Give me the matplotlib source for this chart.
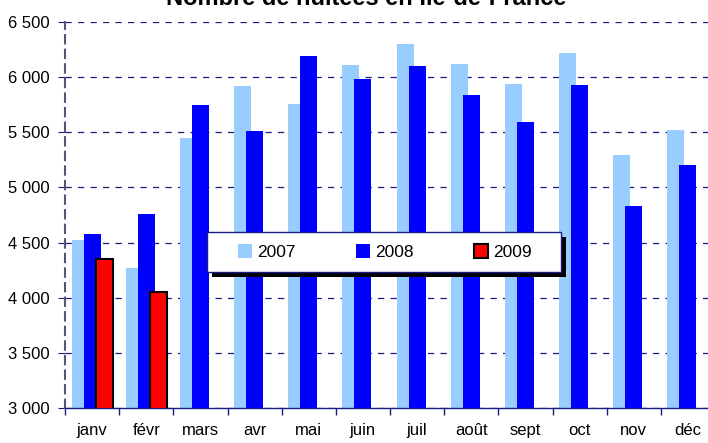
import numpy as np
import matplotlib
matplotlib.use("Agg")
import matplotlib.pyplot as plt
from matplotlib.patches import Rectangle
from matplotlib.ticker import FuncFormatter

months = ["janv", "févr", "mars", "avr", "mai", "juin", "juil", "août", "sept", "oct", "nov", "déc"]
v2007 = [4520, 4265, 5450, 5920, 5755, 6110, 6300, 6120, 5940, 6220, 5295, 5520]
v2008 = [4575, 4760, 5745, 5510, 6190, 5985, 6100, 5840, 5595, 5930, 4830, 5205]
v2009 = [4350, 4055]

plt.rcParams['font.family'] = ['Liberation Sans', 'DejaVu Sans']

W, H = 708, 443
fig = plt.figure(figsize=(W / 100, H / 100), dpi=100)
ax = fig.add_axes([65 / W, 35 / H, 650 / W, 386 / H])

x = np.arange(len(months))
w = 0.315
off = 0.222
navy = "#1a1a80"

ax.bar(x - off, v2007, w, color="#99ccff", label="2007", zorder=2)
ax.bar(x, v2008, w, color="#0000ff", label="2008", zorder=3)
ax.bar(x[:len(v2009)] + off, v2009, w, color="#ff0000", edgecolor="black",
       linewidth=1.5, label="2009", zorder=4)

ax.set_ylim(3000, 6500)
ax.set_xlim(-0.5, 11.5)
ax.set_yticks(np.arange(3000, 6501, 500))
ax.yaxis.set_major_formatter(FuncFormatter(lambda v, p: f"{int(v):,}".replace(",", " ")))
ax.grid(axis="y", color=navy, linestyle=(0, (5, 5)), linewidth=0.9, zorder=1)

ax.set_xticks(np.arange(-0.5, 12, 1))
ax.set_xticklabels([])
ax.set_xticks(x, minor=True)
ax.set_xticklabels(months, minor=True)
ax.tick_params(axis="x", which="major", direction="out", length=5, color=navy, width=1)
ax.tick_params(axis="x", which="minor", length=0, pad=11, labelsize=12)
ax.tick_params(axis="y", direction="out", length=5, color=navy, pad=6, labelsize=12)

for s in ["top", "right"]:
    ax.spines[s].set_visible(False)
ax.spines["bottom"].set_color(navy)
ax.spines["bottom"].set_linewidth(1)
ax.spines["left"].set_color("#555577")
ax.spines["left"].set_linestyle((0, (4, 3)))
ax.spines["left"].set_linewidth(1.5)

# legend entries spread inside a hand-drawn box with a black drop shadow
leg = ax.legend(loc="center left", bbox_to_anchor=(0.255, 0.364, 0.474, 0.08), mode="expand",
                borderaxespad=0, ncol=3, fontsize=12.5, frameon=False,
                handlelength=0.8, handleheight=0.8, handletextpad=0.3, borderpad=0.4)
leg.set_zorder(11)

box = (207 / W, 1 - 272 / H, 354 / W, 40 / H)
shadow = Rectangle((box[0] + 5 / W, box[1] - 5 / H), box[2], box[3], transform=fig.transFigure,
                   facecolor="black", edgecolor="none", zorder=9)
frame = Rectangle(box[:2], box[2], box[3], transform=fig.transFigure,
                  facecolor="white", edgecolor=navy, linewidth=1, zorder=10)
ax.add_artist(shadow)
ax.add_artist(frame)

fig.text(0.517, 1 - 5 / H, "Nombre de nuitées en Ile-de-France", ha="center",
         va="baseline", fontsize=17, fontweight="bold")

fig.savefig("out.png", dpi=100)
